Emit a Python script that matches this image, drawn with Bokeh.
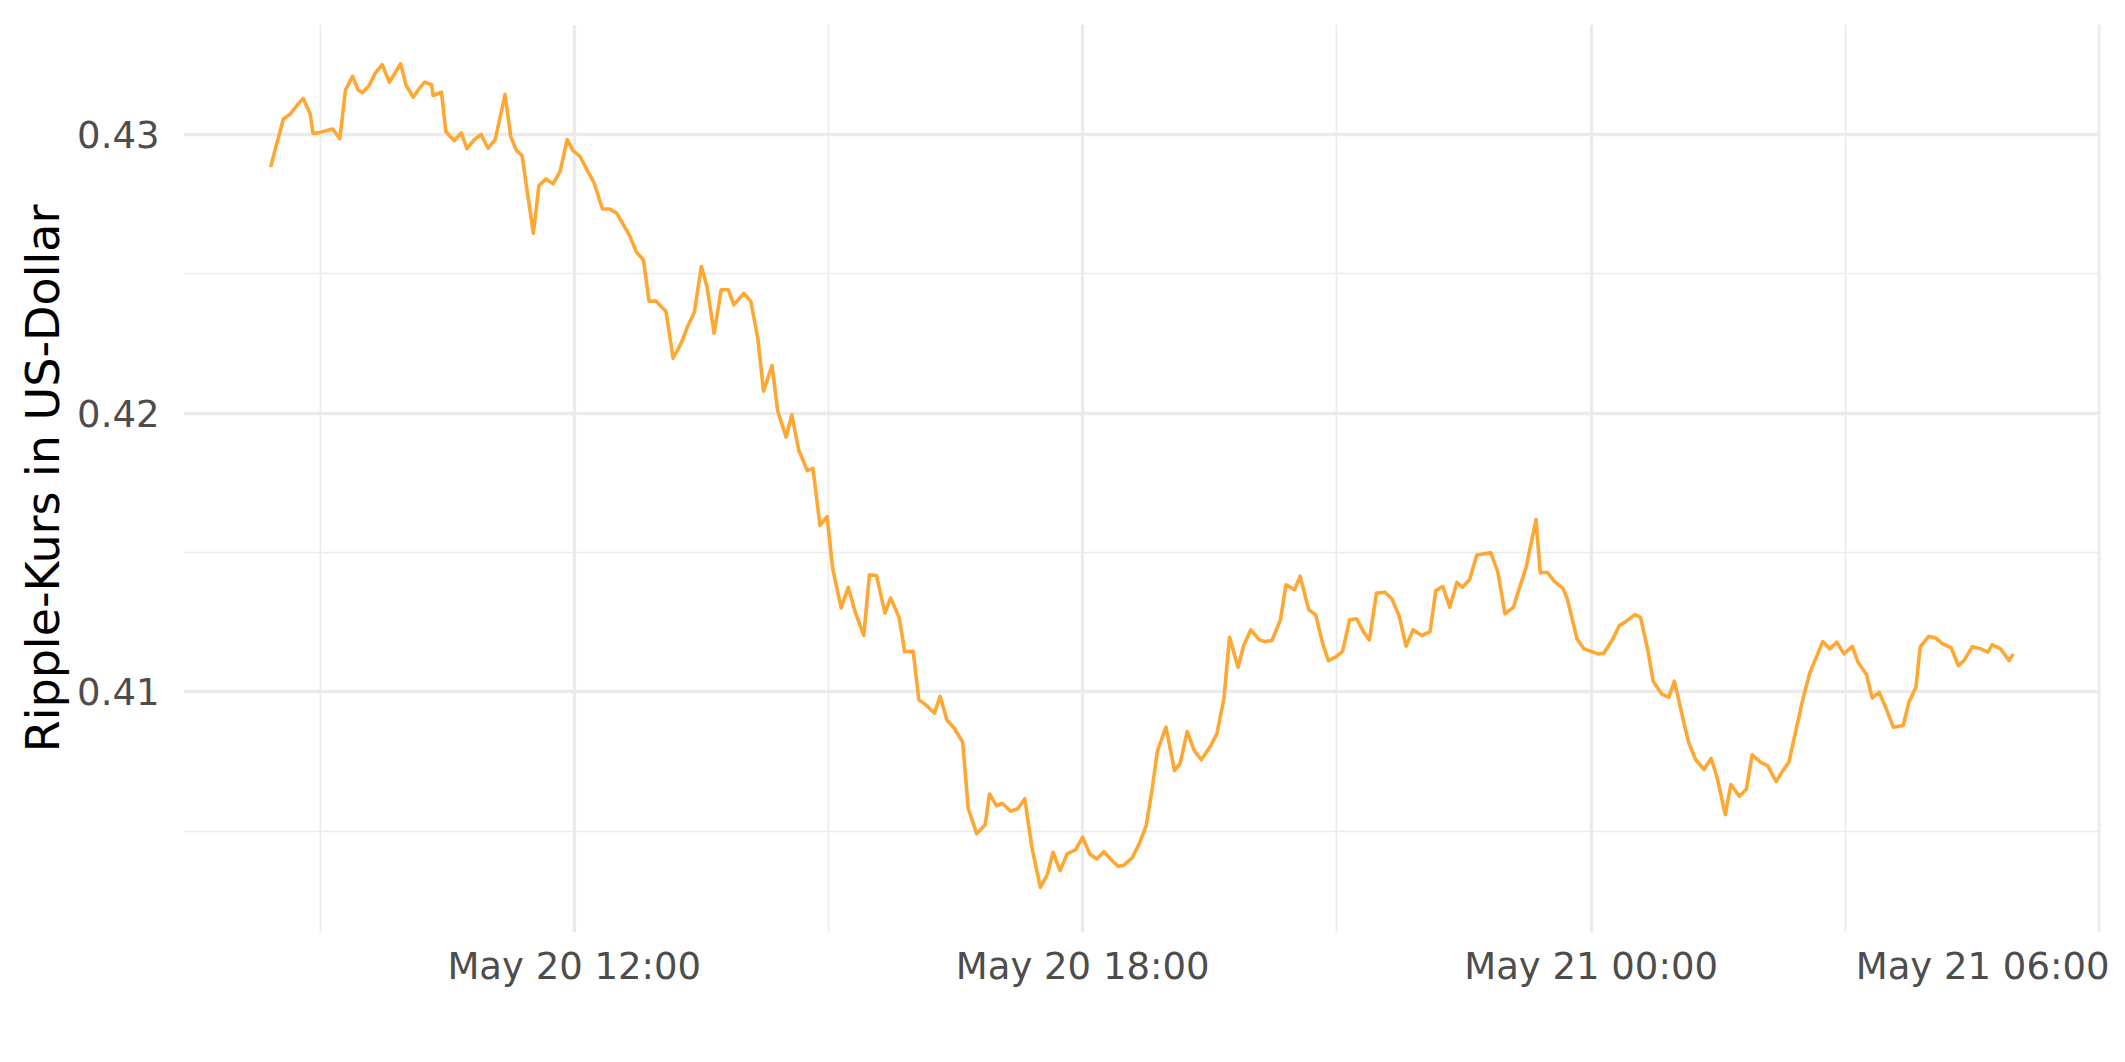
import pandas as pd
from bokeh.plotting import figure
from bokeh.models import FixedTicker, DatetimeTickFormatter, Range1d, PrintfTickFormatter
from bokeh.embed import file_html
from bokeh.resources import INLINE

# minutes after 2019-05-20 00:00
minutes = [
    505, 509, 514, 519, 524, 528, 533, 535, 539, 544, 549, 554, 558, 563, 567, 570,
    575, 579, 584, 589, 593, 597, 601, 606, 610, 614, 619, 620, 626, 629, 635, 640,
    644, 649, 654, 659, 664, 671, 675, 679, 683,
    691, 695, 700, 705, 710, 715, 719, 724, 729, 734, 740, 745, 750, 754, 759, 764,
    769, 773, 778, 785, 790, 796, 800, 805, 810, 814, 819, 824, 829, 833, 840, 845,
    850, 854, 860,
    864, 870, 874, 879, 885, 889, 894, 899, 903, 909, 914, 919, 925, 929, 934, 940,
    944, 950, 954, 960, 964, 969, 975, 979, 984, 989, 995, 999, 1005, 1011, 1014,
    1019, 1023, 1029, 1034, 1039,
    1044, 1050, 1055, 1059, 1064, 1069, 1075, 1080, 1085, 1090, 1095, 1100, 1105,
    1109, 1115, 1120, 1125, 1129, 1133, 1139, 1145, 1149, 1154, 1159, 1164, 1170,
    1175, 1180, 1184, 1190, 1194, 1199, 1205, 1209, 1214, 1220,
    1224, 1230, 1234, 1240, 1245, 1250, 1254, 1259, 1264, 1269, 1274, 1279, 1283,
    1288, 1294, 1299, 1304, 1309, 1314, 1320, 1326, 1330, 1335, 1340, 1345, 1349,
    1354, 1359, 1364, 1369, 1374, 1379, 1385, 1389, 1394, 1401,
    1404, 1409, 1414, 1420, 1423, 1430, 1435, 1440, 1445, 1449, 1455, 1460, 1464,
    1471, 1475, 1480, 1484, 1490, 1495, 1499, 1504, 1509, 1514, 1520, 1525, 1529,
    1535, 1539, 1545, 1550, 1554, 1560, 1565, 1571, 1575, 1580,
    1585, 1590, 1595, 1599, 1604, 1609, 1614, 1619, 1625, 1629, 1635, 1639, 1644,
    1649, 1654, 1661, 1665, 1670, 1673, 1679, 1684, 1689, 1695, 1700, 1704, 1710,
    1716, 1721, 1724, 1730, 1736, 1739,
]

prices = [
    0.42883, 0.42961, 0.43056, 0.43074, 0.43107, 0.43130, 0.43074, 0.43005, 0.43006,
    0.43014, 0.43020, 0.42985, 0.43160, 0.43209, 0.43160, 0.43150, 0.43178, 0.43220,
    0.43251, 0.43188, 0.43220, 0.43254, 0.43176, 0.43134, 0.43164, 0.43188, 0.43179,
    0.43140, 0.43152, 0.43011, 0.42978, 0.43006, 0.42949, 0.42981, 0.43000, 0.42951,
    0.42982, 0.43144, 0.42993, 0.42943, 0.42925,
    0.42646, 0.42817, 0.42841, 0.42823, 0.42868, 0.42982, 0.42943, 0.42922, 0.42873,
    0.42827, 0.42733, 0.42733, 0.42718, 0.42683, 0.42640, 0.42578, 0.42550, 0.42402,
    0.42402, 0.42365, 0.42197, 0.42255, 0.42308, 0.42362, 0.42527, 0.42454, 0.42287,
    0.42443, 0.42443, 0.42389, 0.42430, 0.42401, 0.42267, 0.42079, 0.42171,
    0.42009, 0.41914, 0.41994, 0.41866, 0.41794, 0.41802, 0.41597, 0.41629, 0.41441,
    0.41301, 0.41375, 0.41285, 0.41202, 0.41420, 0.41417, 0.41282, 0.41337, 0.41267,
    0.41144, 0.41145, 0.40971, 0.40953, 0.40923, 0.40984, 0.40897, 0.40870, 0.40819,
    0.40580, 0.40490, 0.40523, 0.40633, 0.40591, 0.40600, 0.40571, 0.40580, 0.40616,
    0.40442, 0.40298, 0.40344, 0.40424, 0.40358, 0.40418, 0.40433, 0.40478, 0.40418,
    0.40400, 0.40426, 0.40398, 0.40374, 0.40377, 0.40404, 0.40454, 0.40520, 0.40645,
    0.40789, 0.40873, 0.40717, 0.40743, 0.40857, 0.40789, 0.40756, 0.40801, 0.40849,
    0.40975, 0.41196, 0.41088, 0.41166, 0.41222, 0.41187, 0.41180, 0.41184, 0.41258,
    0.41384, 0.41366, 0.41415, 0.41295, 0.41276, 0.41172, 0.41112, 0.41124, 0.41145,
    0.41258, 0.41262, 0.41214, 0.41186, 0.41354, 0.41357, 0.41333, 0.41274, 0.41163,
    0.41223, 0.41202, 0.41216, 0.41363, 0.41378, 0.41303, 0.41393, 0.41375, 0.41403,
    0.41491, 0.41495, 0.41499, 0.41429, 0.41280, 0.41303, 0.41369, 0.41447, 0.41618,
    0.41427, 0.41429, 0.41396, 0.41372, 0.41336, 0.41190, 0.41154, 0.41145, 0.41136,
    0.41138, 0.41186, 0.41238, 0.41250, 0.41277, 0.41267, 0.41154, 0.41037, 0.40992,
    0.40980, 0.41038, 0.40926, 0.40819, 0.40757, 0.40721, 0.40761, 0.40697, 0.40559,
    0.40667, 0.40625, 0.40651, 0.40774, 0.40747, 0.40735, 0.40678, 0.40711, 0.40747,
    0.40861, 0.40975, 0.41070, 0.41118, 0.41180, 0.41154, 0.41178, 0.41136, 0.41163,
    0.41106, 0.41062, 0.40978, 0.40998, 0.40939, 0.40873, 0.40879, 0.40962, 0.41016,
    0.41160, 0.41199, 0.41193, 0.41172, 0.41158, 0.41094, 0.41112, 0.41162, 0.41154,
    0.41142, 0.41169, 0.41154, 0.41112, 0.41136,
]

major_hours = [12, 18, 24, 30]
minor_hours = [9, 15, 21, 27]
y_major = [0.41, 0.42, 0.43]
y_minor = [0.405, 0.415, 0.425]
y_limits = (0.40136, 0.43395)
y_title = "Ripple-Kurs in US-Dollar"

base = pd.Timestamp("2019-05-20")
times = base + pd.to_timedelta(minutes, unit="m")
span = minutes[-1] - minutes[0]
x0 = base + pd.Timedelta(minutes=minutes[0] - 0.05 * span)
x1 = base + pd.Timedelta(minutes=minutes[-1] + 0.05 * span)


def to_ms(h):
    return (base + pd.Timedelta(hours=h)).value / 1e6


p = figure(
    width=2109, height=1046,
    x_axis_type="datetime",
    x_range=Range1d(x0, x1),
    y_range=Range1d(*y_limits),
    output_backend="svg", toolbar_location=None,
    min_border_left=183, min_border_right=9,
    min_border_top=24, min_border_bottom=114,
)
p.outline_line_color = None
p.background_fill_color = "white"
p.border_fill_color = "white"

p.line(times, prices, line_color="#FFA733", line_width=3.6, line_join="round")

xt = FixedTicker(ticks=[to_ms(h) for h in major_hours],
                 minor_ticks=[to_ms(h) for h in minor_hours])
yt = FixedTicker(ticks=y_major, minor_ticks=y_minor)
p.xaxis.ticker = xt
p.yaxis.ticker = yt
p.xgrid.ticker = xt
p.ygrid.ticker = yt

fmt = "%b %d %H:%M"
p.xaxis.formatter = DatetimeTickFormatter(
    microseconds=fmt, milliseconds=fmt, seconds=fmt, minsec=fmt, minutes=fmt,
    hourmin=fmt, hours=fmt, days=fmt, months=fmt, years=fmt)
p.yaxis.formatter = PrintfTickFormatter(format="%.2f")

for g in (p.xgrid, p.ygrid):
    g.grid_line_color = "#EBEBEB"
    g.grid_line_width = 3.3
    g.minor_grid_line_color = "#EBEBEB"
    g.minor_grid_line_width = 1.7

for ax in (p.xaxis, p.yaxis):
    ax.axis_line_color = None
    ax.major_tick_line_color = None
    ax.minor_tick_line_color = None
    ax.major_tick_out = 0
    ax.major_tick_in = 0
    ax.minor_tick_out = 0
    ax.minor_tick_in = 0
    ax.major_label_text_font = "DejaVu Sans"
    ax.major_label_text_font_size = "37px"
    ax.major_label_text_color = "#4D4D4D"

p.xaxis.major_label_standoff = 12
p.yaxis.major_label_standoff = 24
p.yaxis.axis_label = y_title
p.yaxis.axis_label_text_font = "DejaVu Sans"
p.yaxis.axis_label_text_font_size = "46px"
p.yaxis.axis_label_text_font_style = "normal"
p.yaxis.axis_label_text_color = "black"
p.yaxis.axis_label_standoff = 4

open("out.html", "w").write(file_html(p, INLINE))
